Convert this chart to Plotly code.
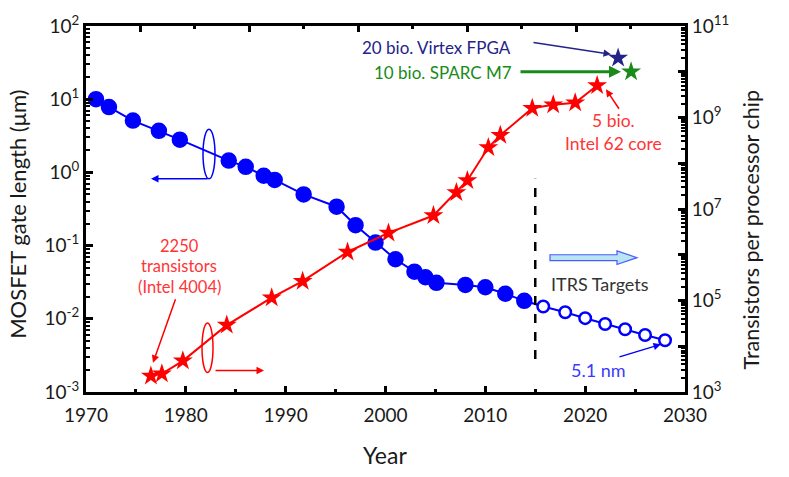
import math
import plotly.graph_objects as go

# ---------------- data ----------------
gate_years = [1971.0, 1972.3, 1974.7, 1977.3, 1979.4, 1984.3, 1986.0, 1987.8, 1988.9,
              1991.8, 1995.1, 1997.0, 1999.0, 2001.0, 2002.9, 2004.0, 2005.1, 2008.0,
              2010.0, 2012.0, 2013.9]
gate_um = [10.0, 7.8, 5.1, 3.7, 2.8, 1.45, 1.19, 0.9, 0.79,
           0.5, 0.34, 0.19, 0.11, 0.065, 0.044, 0.037, 0.031, 0.029,
           0.027, 0.022, 0.0176]
itrs_years = [2015.8, 2018.0, 2020.0, 2022.0, 2024.0, 2026.0, 2028.0]
itrs_um = [0.0147, 0.0123, 0.0102, 0.0085, 0.0072, 0.0060, 0.0051]

tr_years = [1976.5, 1977.6, 1979.7, 1984.1, 1988.6, 1991.7, 1996.2, 2000.3, 2004.8,
            2007.1, 2008.2, 2010.3, 2011.5, 2014.7, 2016.8, 2019.0, 2021.2]
transistors = [2250, 2500, 4800, 29000, 115000, 265000, 1.15e6, 3.0e6, 7.2e6,
               2.3e7, 4.2e7, 2.2e8, 4.1e8, 1.6e9, 1.9e9, 2.1e9, 5.0e9]

fpga_year, fpga_count = [2023.3], [2.0e10]
sparc_year, sparc_count = [2024.6], [1.0e10]

x_ticks = [1970, 1980, 1990, 2000, 2010, 2020, 2030]
left_exp = [-3, -2, -1, 0, 1, 2]
right_exp = [3, 4, 5, 6, 7, 8, 9, 10, 11]

# ---------------- styling ----------------
BLUE = "#0000ff"
RED = "#ff0000"
RED_TXT = "#ff3535"
NAVY = "#23238a"
GREEN = "#1a8a1a"
FONT = "Lato"
TXT = "#1a1a1a"

# reference pixel frame of the plotting area
L, R, T, B = 86, 685, 16, 392
def px(x):
    return (x - L) / (R - L)
def py(y):
    return (B - y) / (B - T)

fig = go.Figure()

all_years = gate_years + itrs_years
all_um = gate_um + itrs_um
fill = [BLUE] * len(gate_years) + ["white"] * len(itrs_years)
sizes = [14] * len(gate_years) + [11.5] * len(itrs_years)

fig.add_trace(go.Scatter(
    x=all_years, y=all_um, mode="lines+markers",
    line=dict(color=BLUE, width=2),
    marker=dict(symbol="circle", size=sizes, color=fill, opacity=1,
                line=dict(color=BLUE, width=2.5)),
    opacity=1,
    xaxis="x", yaxis="y", showlegend=False))

fig.add_trace(go.Scatter(
    x=tr_years, y=transistors, mode="lines+markers",
    line=dict(color=RED, width=2),
    marker=dict(symbol="star", size=15, color=RED, opacity=1, line=dict(width=0)),
    xaxis="x", yaxis="y2", showlegend=False))

fig.add_trace(go.Scatter(
    x=fpga_year, y=fpga_count, mode="markers",
    marker=dict(symbol="star", size=15, color=NAVY, opacity=1, line=dict(width=0)),
    xaxis="x", yaxis="y2", showlegend=False))
fig.add_trace(go.Scatter(
    x=sparc_year, y=sparc_count, mode="markers",
    marker=dict(symbol="star", size=15, color=GREEN, opacity=1, line=dict(width=0)),
    xaxis="x", yaxis="y2", showlegend=False))

# dummy trace so the top (secondary) x axis is drawn
fig.add_trace(go.Scatter(x=[None], y=[None], xaxis="x2", yaxis="y",
                         showlegend=False, hoverinfo="skip"))

tickfont = dict(family=FONT, size=19, color=TXT)

fig.update_layout(
    width=789, height=477, autosize=False,
    margin=dict(l=L, r=789 - R, t=T, b=477 - B),
    paper_bgcolor="white", plot_bgcolor="white",
    font=dict(family=FONT, color=TXT),
    xaxis=dict(
        range=[1970, 2030], tickmode="array", tickvals=x_ticks,
        ticktext=[str(v) for v in x_ticks],
        ticks="inside", ticklen=6, tickwidth=3, tickcolor="black",
        minor=dict(dtick=5, tick0=1970, ticks="inside", ticklen=3,
                   tickwidth=3, tickcolor="black", showgrid=False),
        showline=True, linewidth=3, linecolor="black",
        showgrid=False, zeroline=False, tickfont=tickfont, ticklabelstandoff=4),
    xaxis2=dict(
        overlaying="x", side="top", range=[0, 11], tick0=1, dtick=2,
        ticks="inside", ticklen=6, tickwidth=3, tickcolor="black",
        minor=dict(dtick=1, ticks="inside", ticklen=3, tickwidth=3,
                   tickcolor="black", showgrid=False),
        showticklabels=False, showline=True, linewidth=3, linecolor="black",
        showgrid=False, zeroline=False),
    yaxis=dict(
        type="log", range=[-3, 2], tickmode="array",
        tickvals=[10.0 ** e for e in left_exp],
        ticktext=["10<sup>%d</sup>" % e for e in left_exp],
        ticks="inside", ticklen=7, tickwidth=3, tickcolor="black",
        minor=dict(dtick="D1", ticks="inside", ticklen=4, tickwidth=2,
                   tickcolor="black", showgrid=False),
        showline=True, linewidth=3, linecolor="black",
        showgrid=False, zeroline=False, tickfont=tickfont),
    yaxis2=dict(
        type="log", range=[3, 11], overlaying="y", side="right",
        tickmode="array", tickvals=[10.0 ** e for e in right_exp],
        ticktext=[("10<sup>%d</sup>" % e) if e % 2 == 1 else "" for e in right_exp],
        ticks="inside", ticklen=7, tickwidth=3, tickcolor="black",
        minor=dict(dtick="D1", ticks="inside", ticklen=4, tickwidth=2,
                   tickcolor="black", showgrid=False),
        showline=True, linewidth=3, linecolor="black",
        showgrid=False, zeroline=False, tickfont=tickfont),
)

ann = []
# axis titles
ann.append(dict(text="MOSFET gate length (μm)", xref="paper", yref="paper",
                x=px(18), y=py(210), textangle=-90, showarrow=False,
                xanchor="center", yanchor="middle",
                font=dict(family=FONT, size=22, color=TXT)))
ann.append(dict(text="Transistors per processor chip", xref="paper", yref="paper",
                x=px(751), y=py(226), textangle=-90, showarrow=False,
                xanchor="center", yanchor="middle",
                font=dict(family=FONT, size=21.5, color=TXT)))
ann.append(dict(text="Year", xref="paper", yref="paper", x=px(385), y=py(457),
                showarrow=False, xanchor="center", yanchor="middle",
                font=dict(family=FONT, size=23, color=TXT)))

# text labels
def label(text, x, y, color, size=17):
    ann.append(dict(text=text, xref="paper", yref="paper", x=px(x), y=py(y),
                    showarrow=False, xanchor="center", yanchor="middle",
                    font=dict(family=FONT, size=size, color=color)))

label("20 bio. Virtex FPGA", 436, 38, NAVY, 17)
label("10 bio. SPARC M7", 443, 64, GREEN, 17)
label("5 bio.", 613, 113, RED_TXT, 17.5)
label("Intel 62 core", 613, 137, RED_TXT, 17.5)
label("2250", 179, 242, RED_TXT, 16.5)
label("transistors", 179, 263, RED_TXT, 16.5)
label("(Intel 4004)", 179, 284, RED_TXT, 16.5)
label("ITRS Targets", 600, 281, "#333333", 18)
label("5.1 nm", 598, 369, "#3a3aff", 18)

# arrows (head at x,y; tail offset in pixels)
def arrow(hx, hy, tx, ty, color, width=1.5, size=1.0, head=2):
    ann.append(dict(text="", xref="paper", yref="paper", x=px(hx), y=py(hy),
                    ax=tx - hx, ay=ty - hy, showarrow=True, arrowhead=head,
                    arrowsize=size, arrowwidth=width, arrowcolor=color))

arrow(611, 45, 532, 33, NAVY, 1.5)
arrow(621, 63, 519, 63, GREEN, 3, 0.8)
arrow(606, 81, 620, 102, RED, 1.5)
arrow(153, 362, 176, 297, RED, 1.5)
arrow(151, 173, 209, 173, BLUE, 1.5)
arrow(264, 370, 214, 370, RED, 1.5)
arrow(661, 343, 618, 356, BLUE, 1.5)

fig.update_layout(annotations=ann)

shapes = []
# axis-pointer ellipses
shapes.append(dict(type="circle", xref="paper", yref="paper",
                   x0=px(203), x1=px(215), y0=py(173), y1=py(122),
                   line=dict(color=BLUE, width=1.5)))
shapes.append(dict(type="circle", xref="paper", yref="paper",
                   x0=px(202), x1=px(213), y0=py(372), y1=py(321),
                   line=dict(color=RED, width=1.5)))
# ITRS boundary
shapes.append(dict(type="line", xref="x", yref="paper", x0=2015, x1=2015,
                   y0=py(358), y1=py(173), line=dict(color="black", width=2.5, dash="dash")))
# block arrow
pts = [(550, 251), (617, 251), (617, 247), (637, 254), (617, 261), (617, 257), (550, 257)]
path = "M " + " L ".join("%.5f,%.5f" % (px(a), py(b)) for a, b in pts) + " Z"
shapes.append(dict(type="path", xref="paper", yref="paper", path=path,
                   fillcolor="#b9e4f4", line=dict(color="#4a5cff", width=1.2)))
fig.update_layout(shapes=shapes)

fig.write_html("out.html")
